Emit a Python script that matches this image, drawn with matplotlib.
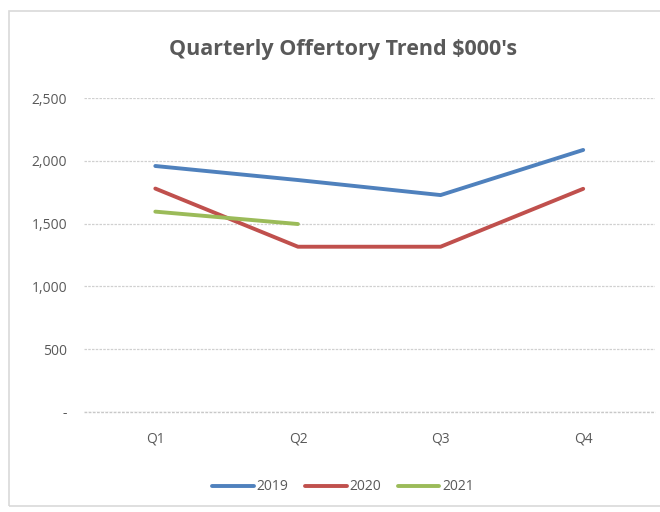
import matplotlib
matplotlib.use("Agg")
import matplotlib.pyplot as plt
from matplotlib.patches import Rectangle
from matplotlib.ticker import FuncFormatter

quarters = ["Q1", "Q2", "Q3", "Q4"]
s2019 = [1960, 1848, 1728, 2088]
s2020 = [1780, 1316, 1316, 1778]
s2021 = [1596, 1497]
series_names = ["2019", "2020", "2021"]
colors = ["#4F81BD", "#C0504D", "#9BBB59"]
yticks = [0, 500, 1000, 1500, 2000, 2500]

plt.rcParams['font.family'] = ['Liberation Sans Narrow', 'Open Sans', 'DejaVu Sans']
txt = "#595959"

fig = plt.figure(figsize=(6.6, 5.12), dpi=100)
fig.patch.set_facecolor("white")
fig.patches.append(Rectangle((9/660, 1 - 506/512), 660/660, 495/512, transform=fig.transFigure,
                             fill=False, edgecolor="#d9d9d9", linewidth=1.2))
ax = fig.add_axes([84/660, 1 - 411.7/512, (654.5 - 84)/660, (411.7 - 98.3)/512])

x = list(range(len(quarters)))
for name, vals, c in zip(series_names, [s2019, s2020, s2021], colors):
    ax.plot(x[:len(vals)], vals, color=c, linewidth=2.8, solid_capstyle="round", label=name)

ax.set_xlim(-0.5, 3.5)
ax.set_ylim(0, 2500)
ax.set_yticks(yticks)
ax.yaxis.set_major_formatter(FuncFormatter(lambda v, p: "-" if v == 0 else f"{int(v):,}"))
ax.set_xticks(x)
ax.set_xticklabels(quarters)
ax.grid(axis="y", color="#d0d0d0", linewidth=0.9, linestyle=(0, (2, 1)))
ax.axhline(0, color="#c8c8c8", linewidth=1.0, linestyle=(0, (2, 1)), clip_on=False, zorder=0.5)
ax.set_axisbelow(True)
for s in ax.spines.values():
    s.set_visible(False)
ax.tick_params(axis="both", length=0, colors=txt, labelsize=10)
ax.tick_params(axis="y", pad=12)
ax.tick_params(axis="x", pad=14)

fig.text(343/660, 1 - 50/512, "Quarterly Offertory Trend $000's", ha="center", va="center",
         fontsize=15.5, color=txt, fontweight="bold")

leg = fig.legend(loc="center", bbox_to_anchor=(343/660, 1 - 487/512), ncol=3, frameon=False,
                 fontsize=10, handlelength=3.0, handletextpad=0.2, columnspacing=1.2)
for t in leg.get_texts():
    t.set_color(txt)

fig.savefig("out.png", dpi=100)
